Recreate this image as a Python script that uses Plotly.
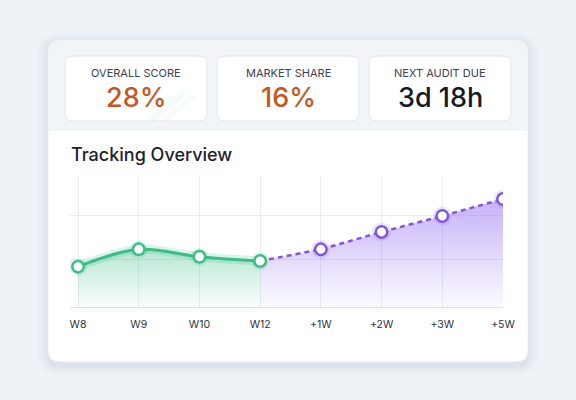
import plotly.graph_objects as go

# The page photo maps a 588 px wide layout onto 576 px; positions below are in
# target-picture pixels (576 x 400) and converted to paper fractions.
W_LAYOUT, H = 588, 400
W_TARGET = 576

categories = ["W8", "W9", "W10", "W12", "+1W", "+2W", "+3W", "+5W"]
actual_values = [30.8, 44.0, 38.4, 35.1]
forecast_values = [35.1, 44.0, 57.3, 69.5, 82.4]
grid_values = [0, 36.6, 70.2, 100]

kpi_labels = ["OVERALL SCORE", "MARKET SHARE", "NEXT AUDIT DUE"]
kpi_values = ["28%", "16%", "3d 18h"]
kpi_colors = ["#c4581f", "#c4581f", "#141a26"]

title_text = "Tracking Overview"

GREEN = "#3dbd86"
PURPLE = "#8457d6"

x_all = list(range(len(categories)))
x_actual = x_all[:len(actual_values)]
x_fore = x_all[len(actual_values) - 1:]


def X(px):
    return px / W_TARGET


def Y(py):
    return 1 - py / H


def rr(x0, y0, x1, y1, r, top=True, bottom=True):
    rt = r if top else 0
    rb = r if bottom else 0
    p = f"M {X(x0+rt)},{Y(y0)} L {X(x1-rt)},{Y(y0)} "
    p += f"Q {X(x1)},{Y(y0)} {X(x1)},{Y(y0+rt)} " if rt else ""
    p += f"L {X(x1)},{Y(y1-rb)} "
    p += f"Q {X(x1)},{Y(y1)} {X(x1-rb)},{Y(y1)} " if rb else ""
    p += f"L {X(x0+rb)},{Y(y1)} "
    p += f"Q {X(x0)},{Y(y1)} {X(x0)},{Y(y1-rb)} " if rb else ""
    p += f"L {X(x0)},{Y(y0+rt)} "
    p += f"Q {X(x0)},{Y(y0)} {X(x0+rt)},{Y(y0)} " if rt else ""
    return p + "Z"


shapes = []
for i, a in enumerate([0.018, 0.022, 0.027, 0.032]):
    s = 10 - i * 2.5
    shapes.append(dict(type="path", xref="paper", yref="paper", layer="below",
                       path=rr(48 - s, 40 - s + 3, 528 + s, 362 + s + 3, 12 + s),
                       fillcolor=f"rgba(90,110,140,{a})", line=dict(width=0)))
shapes.append(dict(type="path", xref="paper", yref="paper", layer="below",
                   path=rr(48, 40, 528, 362, 12), fillcolor="#ffffff",
                   line=dict(width=1, color="#e8ecf1")))
shapes.append(dict(type="path", xref="paper", yref="paper", layer="below",
                   path=rr(48.5, 40.5, 527.5, 131, 12, bottom=False), fillcolor="#f2f5f8",
                   line=dict(width=0)))
tile_x = [(65, 207), (217, 359), (369, 511)]
for (a, b) in tile_x:
    shapes.append(dict(type="path", xref="paper", yref="paper", layer="below",
                       path=rr(a, 56, b, 121, 9), fillcolor="#ffffff",
                       line=dict(width=1, color="#e2e6ec")))
shapes.append(dict(type="line", xref="paper", yref="paper", layer="below",
                   x0=X(150), y0=Y(120), x1=X(184), y1=Y(92),
                   line=dict(color="rgba(61,189,134,0.06)", width=7)))
shapes.append(dict(type="line", xref="paper", yref="paper", layer="below",
                   x0=X(165), y0=Y(120), x1=X(194), y1=Y(96),
                   line=dict(color="rgba(61,189,134,0.05)", width=5)))

annotations = []
for (a, b), lab, val, col in zip(tile_x, kpi_labels, kpi_values, kpi_colors):
    cx = (a + b) / 2
    annotations.append(dict(x=X(cx), y=Y(73.5), xref="paper", yref="paper", text=lab,
                            showarrow=False, xanchor="center", yanchor="middle",
                            font=dict(family="Inter", size=11, color="#3b4252")))
    annotations.append(dict(x=X(cx), y=Y(97.5), xref="paper", yref="paper", text=val,
                            showarrow=False, xanchor="center", yanchor="middle",
                            font=dict(family="Inter", size=27, color=col, weight=500)))
annotations.append(dict(x=X(69), y=Y(154.5), xref="paper", yref="paper", text=title_text,
                        showarrow=False, xanchor="left", yanchor="middle",
                        font=dict(family="Inter", size=18, color="#1c2230", weight=500)))

fig = go.Figure()

fig.add_trace(go.Scatter(
    x=x_actual, y=actual_values, mode="lines", line=dict(width=0, shape="spline"),
    fill="tozeroy",
    fillgradient=dict(type="vertical", colorscale=[[0, "rgba(61,189,134,0.02)"],
                                                   [1, "rgba(61,189,134,0.38)"]]),
    hoverinfo="skip", showlegend=False))
fig.add_trace(go.Scatter(
    x=x_fore, y=forecast_values, mode="lines", line=dict(width=0),
    fill="tozeroy",
    fillgradient=dict(type="vertical", colorscale=[[0, "rgba(140,100,240,0.03)"],
                                                   [1, "rgba(140,100,240,0.50)"]]),
    hoverinfo="skip", showlegend=False))
fig.add_trace(go.Scatter(
    x=x_actual, y=actual_values, mode="lines",
    line=dict(width=9, color="rgba(61,189,134,0.18)", shape="spline"),
    hoverinfo="skip", showlegend=False))
fig.add_trace(go.Scatter(
    x=x_fore, y=forecast_values, mode="lines",
    line=dict(width=2.5, color=PURPLE, dash="5px,4px"),
    hoverinfo="skip", showlegend=False))
fig.add_trace(go.Scatter(
    x=x_actual, y=actual_values, mode="lines",
    line=dict(width=3, color=GREEN, shape="spline"),
    hoverinfo="skip", showlegend=False))
fig.add_trace(go.Scatter(
    x=x_fore[1:], y=forecast_values[1:], mode="markers",
    marker=dict(size=19, color="rgba(140,100,240,0.15)", line=dict(width=0)),
    hoverinfo="skip", showlegend=False))
fig.add_trace(go.Scatter(
    x=x_actual, y=actual_values, mode="markers",
    marker=dict(size=18, color="rgba(61,189,134,0.15)", line=dict(width=0)),
    hoverinfo="skip", showlegend=False))
fig.add_trace(go.Scatter(
    x=x_fore[1:], y=forecast_values[1:], mode="markers",
    marker=dict(size=11.5, color="#ffffff", line=dict(width=2.5, color=PURPLE)),
    showlegend=False))
fig.add_trace(go.Scatter(
    x=x_actual, y=actual_values, mode="markers",
    marker=dict(size=11.5, color="#ffffff", line=dict(width=2.5, color=GREEN)),
    showlegend=False))

fig.update_layout(
    width=W_LAYOUT, height=H, autosize=False,
    margin=dict(l=0, r=0, t=0, b=0),
    paper_bgcolor="#edf2f6",
    plot_bgcolor="rgba(0,0,0,0)",
    shapes=shapes,
    annotations=annotations,
    font=dict(family="Inter"),
    xaxis=dict(domain=[X(70), X(503)], range=[-0.132, 7], tickmode="array",
               tickvals=x_all, ticktext=categories, showgrid=True, gridcolor="#e9ecf1",
               gridwidth=1, zeroline=False, showline=True, linecolor="#dde2e8",
               ticks="outside", ticklen=7, tickcolor="rgba(0,0,0,0)",
               tickfont=dict(family="Inter", size=10.5, color="#2f3542"), fixedrange=True),
    yaxis=dict(domain=[Y(307), Y(176)], range=[0, 100], tickmode="array",
               tickvals=grid_values, showticklabels=False, showgrid=True,
               gridcolor="#e9ecf1", zeroline=False, showline=False, fixedrange=True),
)

fig.write_html("out.html")
